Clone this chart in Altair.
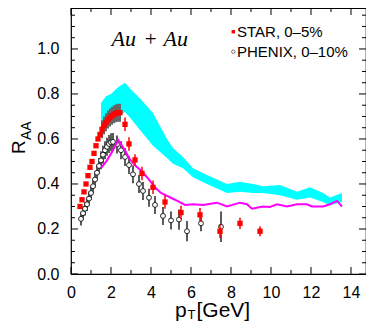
import altair as alt
import pandas as pd

# ---------------- data ----------------
# STAR 0-5% (red squares)
star_pt = [0.45, 0.55, 0.65, 0.75, 0.85, 0.95, 1.05, 1.15, 1.25, 1.35, 1.45, 1.55, 1.65, 1.75,
           1.85, 1.95, 2.05, 2.15, 2.25, 2.35, 2.45,
           2.7, 2.9, 3.2, 3.55, 4.1, 4.7, 5.5, 6.45, 7.45, 8.45, 9.45]
star_r = [0.30, 0.33, 0.365, 0.40, 0.437, 0.474, 0.50, 0.536, 0.57, 0.60, 0.62, 0.643, 0.66, 0.674,
          0.686, 0.695, 0.703, 0.71, 0.714, 0.717, 0.717,
          0.665, 0.578, 0.507, 0.447, 0.385, 0.32, 0.273, 0.263, 0.19, 0.225, 0.19]
star_err = [0.005] * 21 + [0.03, 0.03, 0.025, 0.03, 0.03, 0.03, 0.03, 0.03, 0.03, 0.025, 0.022]
# STAR systematic (grey bars)
star_sys_pt = [1.55, 1.65, 1.75, 1.85, 1.95, 2.05, 2.15, 2.25, 2.35, 2.45]
star_sys_r = [0.643, 0.66, 0.674, 0.686, 0.695, 0.703, 0.71, 0.714, 0.717, 0.717]
star_sys = [0.04] * 10

# PHENIX 0-10% (open circles)
phx_pt = [0.5, 0.6, 0.7, 0.8, 0.9, 1.0, 1.1, 1.2, 1.3, 1.4, 1.5, 1.6, 1.7, 1.8, 1.9, 2.0, 2.1,
          2.3, 2.5, 2.7, 2.9, 3.1, 3.4, 3.6, 3.9, 4.2, 4.6, 5.0, 5.4, 5.8, 6.5, 7.5]
phx_r = [0.245, 0.27, 0.29, 0.31, 0.335, 0.36, 0.39, 0.42, 0.45, 0.48, 0.505, 0.53, 0.55, 0.565,
         0.578, 0.585, 0.587, 0.575, 0.55, 0.52, 0.484, 0.443, 0.40, 0.369, 0.339, 0.307, 0.258,
         0.238, 0.242, 0.19, 0.225, 0.21]
phx_err = [0.03] * 7 + [0.035] * 3 + [0.04] * 18 + [0.045, 0.045, 0.035, 0.068]

# model band (cyan)
band_pt = [1.5, 1.75, 2.0, 2.35, 2.7, 3.0, 3.45, 4.1, 4.8, 5.1, 5.6, 6.1, 6.8, 7.8, 8.45, 9.1,
           9.6, 10.45, 11.3, 11.95, 12.6, 12.95, 13.55]
band_hi = [0.76, 0.79, 0.80, 0.83, 0.85, 0.82, 0.78, 0.715, 0.60, 0.56, 0.52, 0.47, 0.44, 0.40,
           0.41, 0.40, 0.39, 0.395, 0.365, 0.385, 0.36, 0.34, 0.36]
band_lo = [0.645, 0.66, 0.675, 0.70, 0.72, 0.69, 0.64, 0.57, 0.515, 0.49, 0.47, 0.43, 0.40, 0.36,
           0.365, 0.36, 0.36, 0.35, 0.33, 0.34, 0.32, 0.305, 0.32]

# model curve (magenta)
line_pt = [1.5, 1.8, 2.1, 2.37, 2.53, 2.7, 2.87, 3.03, 3.28, 3.5, 3.8, 4.2, 4.5, 5.2, 5.7, 6.1,
           6.6, 7.3, 7.8, 8.45, 8.8, 9.05, 9.6, 9.95, 10.3, 10.8, 11.3, 11.8, 12.05, 12.6, 12.95,
           13.3, 13.55]
line_r = [0.47, 0.505, 0.55, 0.595, 0.573, 0.55, 0.52, 0.50, 0.477, 0.46, 0.43, 0.385, 0.36, 0.33,
          0.307, 0.31, 0.307, 0.317, 0.30, 0.317, 0.31, 0.29, 0.30, 0.298, 0.31, 0.30, 0.31, 0.31,
          0.30, 0.30, 0.31, 0.325, 0.30]

# axes ticks
x_major = [0, 2, 4, 6, 8, 10, 12, 14]
x_minor = [1, 3, 5, 7, 9, 11, 13]
y_major = [0.0, 0.2, 0.4, 0.6, 0.8, 1.0]
y_minor = [0.05, 0.1, 0.15, 0.25, 0.3, 0.35, 0.45, 0.5, 0.55, 0.65, 0.7, 0.75, 0.85, 0.9, 0.95,
           1.05, 1.1, 1.15]

# ---------------- tables ----------------
star = pd.DataFrame({"pt": star_pt, "r": star_r, "e": star_err})
star["lo"] = star.r - star.e
star["hi"] = star.r + star.e
sys = pd.DataFrame({"pt": star_sys_pt, "r": star_sys_r, "e": star_sys})
sys["lo"] = sys.r - sys.e
sys["hi"] = sys.r + sys.e
phx = pd.DataFrame({"pt": phx_pt, "r": phx_r, "e": phx_err})
phx["lo"] = phx.r - phx.e
phx["hi"] = phx.r + phx.e
band = pd.DataFrame({"pt": band_pt, "lo": band_lo, "hi": band_hi})
curve = pd.DataFrame({"pt": line_pt, "r": line_r})

W, H = 295, 266
xs = alt.Scale(domain=[0, 14.75], nice=False, zero=False)
ys = alt.Scale(domain=[0, 1.182], nice=False, zero=False)
AX = alt.Axis(values=x_major, format="d", title=None, labelPadding=10, labelFlush=False,
              labelOverlap=False)
AY = alt.Axis(values=y_major, format=".1f", title=None, labelPadding=12, labelFlush=False,
              labelOverlap=False)


def XE(f):
    return alt.X(f, scale=xs, axis=AX)


def YE(f):
    return alt.Y(f, scale=ys, axis=AY)


band_l = alt.Chart(band).mark_area(color="#00FFFF", opacity=1).encode(
    x=XE("pt:Q"), y=YE("lo:Q"), y2="hi:Q")

phx_bars = alt.Chart(phx).mark_rule(color="#333333", strokeWidth=1.6).encode(
    x=XE("pt:Q"), y=YE("lo:Q"), y2="hi:Q")
phx_pts = alt.Chart(phx).mark_point(shape="circle", filled=True, fill="white", stroke="#222222",
                                    strokeWidth=1, size=24, opacity=1).encode(
    x=XE("pt:Q"), y=YE("r:Q"))

curve_l = alt.Chart(curve).mark_line(color="#FF00FF", strokeWidth=2).encode(
    x=XE("pt:Q"), y=YE("r:Q"))

sys_bars = alt.Chart(sys).mark_rule(color="#666666", strokeWidth=2).encode(
    x=XE("pt:Q"), y=YE("lo:Q"), y2="hi:Q")
star_bars = alt.Chart(star).mark_rule(color="#FF0000", strokeWidth=1.5).encode(
    x=XE("pt:Q"), y=YE("lo:Q"), y2="hi:Q")
star_pts = alt.Chart(star).mark_point(shape="square", filled=True, color="#FF0000", size=28,
                                      opacity=1).encode(
    x=XE("pt:Q"), y=YE("r:Q"))


# inward ticks on all four sides
def xt(vals, ln):
    d = pd.DataFrame({"v": vals})
    b = alt.Chart(d).mark_rule(color="black", strokeWidth=1).encode(
        x=XE("v:Q"), y=alt.value(H), y2=alt.value(H - ln))
    t = alt.Chart(d).mark_rule(color="black", strokeWidth=1).encode(
        x=XE("v:Q"), y=alt.value(0), y2=alt.value(ln))
    return [b, t]


def yt(vals, ln):
    d = pd.DataFrame({"v": vals})
    l = alt.Chart(d).mark_rule(color="black", strokeWidth=1).encode(
        y=YE("v:Q"), x=alt.value(0), x2=alt.value(ln))
    r = alt.Chart(d).mark_rule(color="black", strokeWidth=1).encode(
        y=YE("v:Q"), x=alt.value(W), x2=alt.value(W - ln))
    return [l, r]


ticks = xt(x_major, 7) + xt(x_minor, 4) + yt(y_major, 7) + yt(y_minor, 4)

# texts
one = pd.DataFrame({"a": [0]})


def txt(s, x, y, size, font="Liberation Sans", style="normal", align="left", baseline="alphabetic",
        angle=0, color="black"):
    return alt.Chart(one).mark_text(text=s, font=font, fontSize=size, fontStyle=style, align=align,
                                    baseline=baseline, angle=angle, color=color).encode(
        x=alt.value(x), y=alt.value(y))


texts = [
    txt("Au", 40.5, 37.7, 22, font="Liberation Serif", style="italic"),
    txt("+", 79.7, 37.7, 21, font="Liberation Serif", align="center"),
    txt("Au", 92.5, 37.7, 22, font="Liberation Serif", style="italic"),
    txt("STAR, 0\u20135%", 166, 24, 15, baseline="middle"),
    txt("PHENIX, 0\u201310%", 166, 44, 15, baseline="middle"),
    txt("p", 104, 309, 21),
    txt("T", 116.5, 311, 13),
    txt("[GeV]", 125.5, 309, 21),
    txt("R", -46, 146, 19, angle=270),
    txt("AA", -40, 132, 14, angle=270),
]

leg_sq = alt.Chart(one).mark_point(shape="square", filled=True, color="#FF0000", size=12,
                                   opacity=1).encode(x=alt.value(162.3), y=alt.value(23.7))
leg_ci = alt.Chart(one).mark_point(shape="circle", filled=True, fill="white", stroke="#555555",
                                   strokeWidth=0.8, size=12, opacity=1).encode(
    x=alt.value(162.3), y=alt.value(43.7))

chart = alt.layer(
    band_l, phx_bars, phx_pts, curve_l, sys_bars, star_bars, star_pts, *ticks, *texts, leg_sq, leg_ci
).properties(
    width=W, height=H,
    autosize=alt.AutoSizeParams(type="none"),
    padding={"left": 63, "top": 0, "right": 0, "bottom": 48},
    background="white",
).configure_view(stroke="black", strokeWidth=1.2).configure_axis(
    grid=False, domain=False, ticks=False, labelFont="Liberation Sans", labelFontSize=16,
    labelColor="black"
)

chart.save("out.html", embed_options={"renderer": "svg", "actions": False})
